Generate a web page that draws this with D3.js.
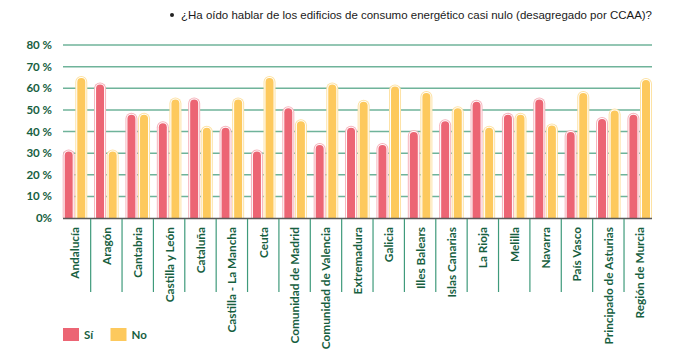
<!DOCTYPE html>
<html><head><meta charset="utf-8">
<script src="https://cdn.jsdelivr.net/npm/d3@7"></script>
<style>body{margin:0;background:#fff}svg{display:block}</style>
</head><body><svg id="c" width="688" height="354"></svg>
<script>
const categories = ["Andalucía","Aragón","Cantabria","Castilla y León","Cataluña","Castilla - La Mancha","Ceuta","Comunidad de Madrid","Comunidad de Valencia","Extremadura","Galicia","Illes Balears","Islas Canarias","La Rioja","Melilla","Navarra","País Vasco","Principado de Asturias","Región de Murcia"];
const si = [31,62,48,44,55,42,31,51,34,42,34,40,45,54,48,55,40,46,48];
const no = [65,31,48,55,42,55,65,45,62,54,61,58,51,42,48,43,58,50,64];
const yTicks = [0,10,20,30,40,50,60,70,80];
const series = ["Sí","No"];
const title = "¿Ha oído hablar de los edificios de consumo energético casi nulo (desagregado por CCAA)?";

const svg = d3.select("#c");
const x = d3.scaleBand().domain(categories).range([59.3, 655.4]).padding(0);
const y = d3.scaleLinear().domain([0,80]).range([218,45]);
const colors = {"Sí":"#ec6574","No":"#fdc95d"};
const halo = {"Sí":"#f6b3bc","No":"#fde2a4"};
const green = "#17603f";

// title
svg.append("circle").attr("cx",172).attr("cy",15).attr("r",2).attr("fill","#222");
svg.append("text").attr("x",181).attr("y",19).attr("font-family","Liberation Sans, Arial, sans-serif")
  .attr("font-size",11.3).attr("fill","#1a1a1a").attr("textLength",471).attr("lengthAdjust","spacingAndGlyphs").text(title);

// grid
svg.append("g").selectAll("line").data(yTicks.filter(d=>d>0)).join("line")
  .attr("x1",63).attr("x2",652).attr("y1",d=>y(d)).attr("y2",d=>y(d))
  .attr("stroke","#6fb39a").attr("stroke-width",1.5);
svg.append("g").selectAll("text").data(yTicks).join("text")
  .attr("x",52).attr("y",d=>y(d)+4).attr("text-anchor","end")
  .attr("font-family","Lato, sans-serif").attr("font-weight",700).attr("font-size",11.5)
  .attr("fill",green).text(d=>d===0?"0%":d+" %");

function topRounded(cx, w, yTop, yBase){
  const r = w/2, x0 = cx - r, x1 = cx + r;
  return `M${x0},${yBase}V${yTop+r}A${r},${r} 0 0 1 ${x1},${yTop+r}V${yBase}Z`;
}
const bw = 8;
const bars = [];
categories.forEach((c,i)=>{
  bars.push({c, s:"Sí", v:si[i], off:-6.3});
  bars.push({c, s:"No", v:no[i], off:6.3});
});
const g = svg.append("g");
bars.forEach(b=>{
  const cx = x(b.c)+x.bandwidth()/2 + b.off;
  const top = y(b.v) - 1.5;
  g.append("path").attr("d",topRounded(cx,bw+4,top,218)).attr("fill",halo[b.s]);
  g.append("path").attr("d",topRounded(cx,bw+2,top+1,218)).attr("fill","#fff");
  g.append("path").attr("d",topRounded(cx,bw,top+2,218)).attr("fill",colors[b.s]);
});

// axis baseline
svg.append("line").attr("x1",63).attr("x2",652).attr("y1",218.5).attr("y2",218.5).attr("stroke","#5a5a5a").attr("stroke-width",1.5);
// separators
svg.append("g").selectAll("line").data(categories.slice(1)).join("line")
  .attr("x1",d=>x(d)).attr("x2",d=>x(d)).attr("y1",219).attr("y2",292)
  .attr("stroke","#3f9a7b").attr("stroke-width",1.2);
// x labels
svg.append("g").selectAll("text").data(categories).join("text")
  .attr("transform",d=>`translate(${x(d)+x.bandwidth()/2+4.5},227) rotate(-90)`)
  .attr("text-anchor","end").attr("font-family","Lato, sans-serif").attr("font-weight",700)
  .attr("font-size",11.8).attr("fill",green).text(d=>d);

// legend
const lg = svg.append("g");
series.forEach((s,i)=>{
  const lx = 63 + i*47.5;
  lg.append("rect").attr("x",lx).attr("y",328).attr("width",16).attr("height",13).attr("fill",colors[s]);
  lg.append("text").attr("x",lx+21).attr("y",339).attr("font-family","Lato, sans-serif").attr("font-weight",700)
    .attr("font-size",11.5).attr("fill",green).text(s);
});
</script></body></html>
